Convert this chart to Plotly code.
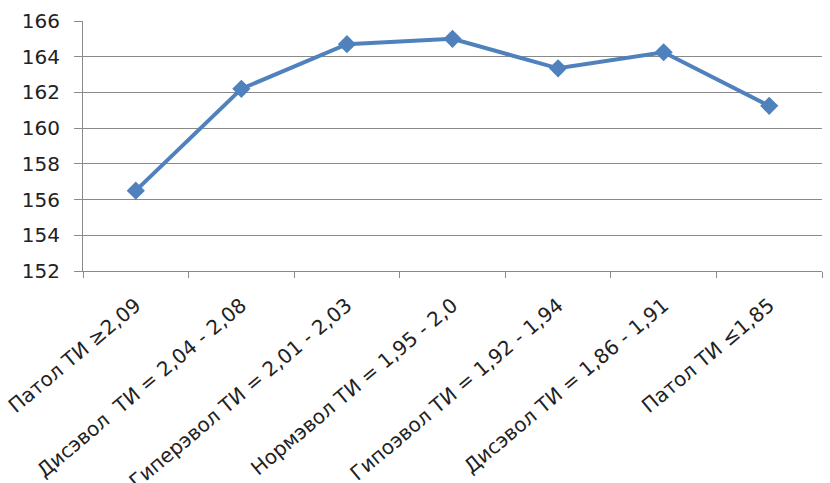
import plotly.graph_objects as go

# Categories (thymus index groups) and mean values
categories = [
    "Патол ТИ ≥2,09",
    "Дисэвол  ТИ = 2,04 - 2,08",
    "Гиперэвол ТИ = 2,01 - 2,03",
    "Нормэвол ТИ = 1,95 - 2,0",
    "Гипоэвол ТИ = 1,92 - 1,94",
    "Дисэвол ТИ = 1,86 - 1,91",
    "Патол ТИ ≤1,85",
]
values = [156.5, 162.2, 164.7, 165.0, 163.35, 164.25, 161.25]
y_ticks = [152, 154, 156, 158, 160, 162, 164, 166]

blue = "#4F81BD"
grid = "#8A8A8A"
font_family = "DejaVu Sans"

fig = go.Figure(
    go.Scatter(
        x=categories,
        y=values,
        mode="lines+markers",
        line=dict(color=blue, width=4),
        marker=dict(symbol="diamond", size=14, color=blue),
        showlegend=False,
    )
)

fig.update_layout(
    width=830,
    height=483,
    margin=dict(l=83, r=8, t=21, b=212, autoexpand=False),
    paper_bgcolor="white",
    plot_bgcolor="white",
    font=dict(family=font_family, color="#222222"),
)

fig.update_xaxes(
    type="category",
    range=[-0.5, len(categories) - 0.5],
    tickangle=-40,
    tickson="boundaries",
    ticks="outside",
    ticklen=6,
    tickcolor=grid,
    showline=True,
    linecolor=grid,
    linewidth=1,
    showgrid=False,
    tickfont=dict(size=20, family=font_family, color="#222222"),
    ticklabelstandoff=14,
    automargin=False,
)

fig.update_yaxes(
    range=[152, 166],
    tickvals=y_ticks,
    ticks="outside",
    ticklen=8,
    tickcolor=grid,
    showline=True,
    linecolor=grid,
    linewidth=1,
    showgrid=True,
    gridcolor=grid,
    gridwidth=1,
    zeroline=False,
    tickfont=dict(size=20, family=font_family, color="#222222"),
    ticklabelstandoff=10,
    automargin=False,
)

fig.write_html("out.html")
